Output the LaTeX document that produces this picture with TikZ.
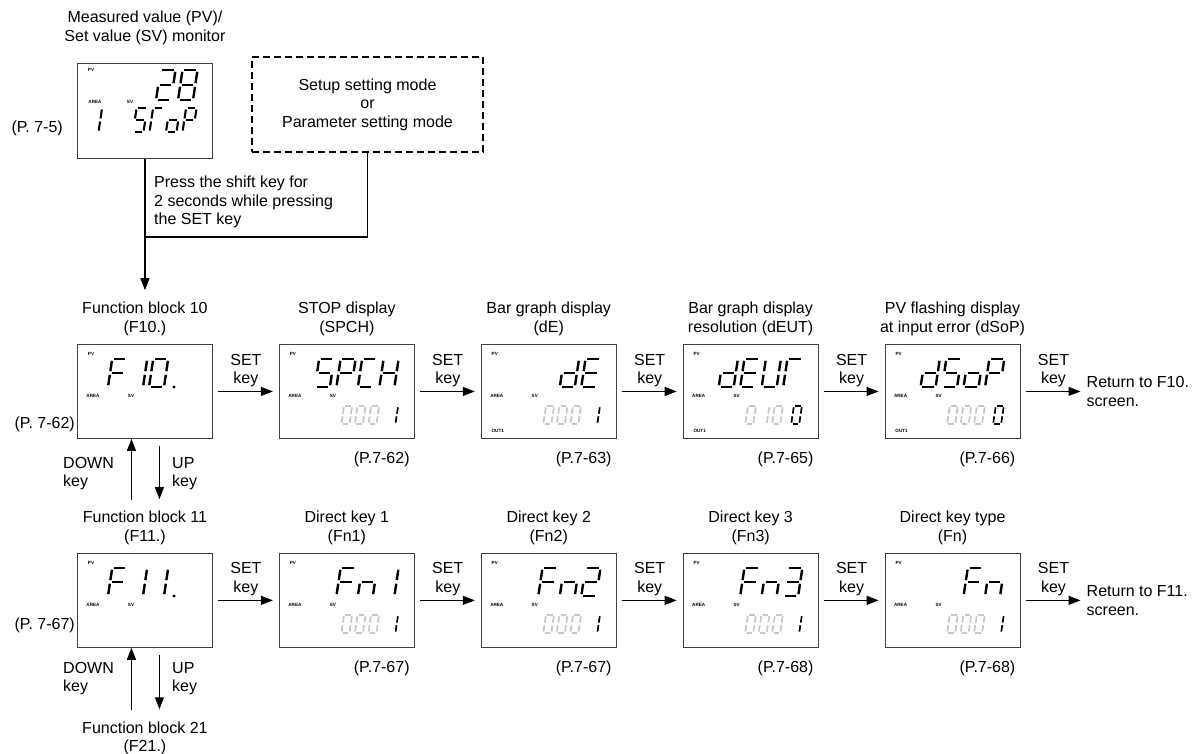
\documentclass[tikz,border=0pt]{standalone}
\usepackage{fontspec}
\setmainfont{Liberation Sans}
\usetikzlibrary{arrows.meta,positioning}

\colorlet{lcdoff}{black!22}
\colorlet{frame}{black!75}

% seven segment glyphs
\newcommand\segZero{a,b,c,d,e,f}
\newcommand\segOne{b,c}
\newcommand\segTwo{a,b,g,e,d}
\newcommand\segThree{a,b,g,c,d}
\newcommand\segEight{a,b,c,d,e,f,g}
\newcommand\segS{a,f,g,c,d}
\newcommand\segP{a,b,e,f,g}
\newcommand\segC{a,d,e,f}
\newcommand\segH{b,c,e,f,g}
\newcommand\segD{b,c,d,e,g}
\newcommand\segE{a,d,e,f,g}
\newcommand\segU{b,c,d,e,f}
\newcommand\segT{a,e,f}
\newcommand\segO{c,d,e,g}
\newcommand\segN{c,e,g}
\newcommand\segF{a,e,f,g}

\tikzset{
  seg/a/.style={insert path={(\segg,\segh) -- (\segw-\segg,\segh)}},
  seg/b/.style={insert path={(\segw,\segh-\segg) -- (\segw,\segh/2+\segg)}},
  seg/c/.style={insert path={(\segw,\segh/2-\segg) -- (\segw,\segg)}},
  seg/d/.style={insert path={(\segg,0) -- (\segw-\segg,0)}},
  seg/e/.style={insert path={(0,\segg) -- (0,\segh/2-\segg)}},
  seg/f/.style={insert path={(0,\segh/2+\segg) -- (0,\segh-\segg)}},
  seg/g/.style={insert path={(\segg,\segh/2) -- (\segw-\segg,\segh/2)}},
  big/.style={line width=2.4pt, /utils/exec={\def\segw{15}\def\segh{28}\def\segg{1.8}}},
  bigm/.style={line width=2.4pt, /utils/exec={\def\segw{15}\def\segh{30}\def\segg{1.8}}},
  mid/.style={line width=2.1pt, /utils/exec={\def\segw{10.5}\def\segh{24}\def\segg{1.5}}},
  small/.style={line width=1.7pt, /utils/exec={\def\segw{8}\def\segh{18}\def\segg{1.3}}},
}

\newcommand\lcdchar[4]{%
  \begin{scope}[shift={#1}, xslant=.15, #2]
    \foreach \s in #3 {\draw[#4, seg/\s];}
  \end{scope}}

\newcommand\bigrow[5]{%
  \begin{scope}[shift={(#1.north west)}]
    \ifx\relax#2\relax\else\lcdchar{(36,-43)}{big}{#2}{black}\fi
    \ifx\relax#3\relax\else\lcdchar{(57.5,-43)}{big}{#3}{black}\fi
    \ifx\relax#4\relax\else\lcdchar{(79,-43)}{big}{#4}{black}\fi
    \ifx\relax#5\relax\else\lcdchar{(100.5,-43)}{big}{#5}{black}\fi
  \end{scope}}

\newcommand\smallrow[5]{%
  \begin{scope}[shift={(#1.north west)}]
    \lcdchar{(62.5,-80)}{small}{#2}{lcdoff}
    \lcdchar{(76,-80)}{small}{#3}{lcdoff}
    \lcdchar{(89.5,-80)}{small}{#4}{lcdoff}
    \lcdchar{(108.5,-80)}{small}{#5}{black}
  \end{scope}}

\newcommand\lcdtags[1]{%
  \node[tag] (#1-pv) at ([shift={(14,-10)}]#1.north west) {PV};
  \node[tag] (#1-area) at ([shift={(16,-52)}]#1.north west) {AREA};
  \node[tag] (#1-sv) at ([shift={(54,-52)}]#1.north west) {SV};}

\begin{document}
\begin{tikzpicture}[x=1pt, y=1pt, >={Triangle[length=12pt,width=9pt]},
    every node/.style={font=\fontsize{16}{18.5}\selectfont, inner sep=0pt},
    lcd/.style={draw=frame, line width=0.9pt, minimum width=135pt, minimum height=94pt},
    ttl/.style={align=center},
    pref/.style={anchor=east},
    keylbl/.style={align=center, above=4pt},
    conn/.style={line width=1.1pt},
    arr/.style={->, line width=1.1pt, shorten <=5pt, shorten >=6pt},
    tag/.style={font=\fontsize{4.6}{4.6}\selectfont\bfseries}]
  \useasboundingbox (0,0) rectangle (1197,-754);

  % monitor and mode box
  \node[lcd, minimum height=95pt, anchor=north west] (mon) at (77,-63) {};
  \node[ttl, above=18pt of mon] (tmon) {Measured value (PV)/\\Set value (SV) monitor};
  \node[pref] (pmon) at (63,-128.5) {(P. 7-5)};
  \node[tag] (mon-pv) at ([shift={(14,-7)}]mon.north west) {PV};
  \node[tag] (mon-area) at ([shift={(18,-39)}]mon.north west) {AREA};
  \node[tag] (mon-sv) at ([shift={(53,-39)}]mon.north west) {SV};
  \begin{scope}[shift={(mon.north west)}]
    \lcdchar{(79,-37)}{bigm}{\segTwo}{black}
    \lcdchar{(101,-37)}{bigm}{\segEight}{black}
    \lcdchar{(11,-69)}{mid}{\segOne}{black}
    \lcdchar{(56,-69)}{mid}{\segS}{black}
    \lcdchar{(72.5,-69)}{mid}{\segT}{black}
    \lcdchar{(89,-69)}{mid}{\segO}{black}
    \lcdchar{(105.5,-69)}{mid}{\segP}{black}
  \end{scope}
  \node[draw, dash pattern=on 7pt off 4pt, line width=1.4pt, minimum width=231pt,
        minimum height=95pt, align=center] (mode) at (367.5,-104.5)
        {Setup setting mode\\or\\Parameter setting mode};
  \node[anchor=west, align=left] (press) at (154,-202)
        {Press the shift key for\\2 seconds while pressing\\the SET key};
  \coordinate (jn) at (144.5,-237);

  % row F10
  \node[lcd, anchor=north west] (f10) at (77,-344) {};
  \node[lcd, right=66pt of f10] (spch) {};
  \node[lcd, right=66pt of spch] (de) {};
  \node[lcd, right=66pt of de] (deut) {};
  \node[lcd, right=66pt of deut] (dsop) {};
  \node[anchor=west, align=left, right=66pt of dsop] (ret10) {Return to F10.\\screen.};
  \node[ttl, above=8pt of f10] (t10) {Function block 10\\(F10.)};
  \node[ttl, above=8pt of spch] (tsp) {STOP display\\(SPCH)};
  \node[ttl, above=8pt of de] (tde) {Bar graph display\\(dE)};
  \node[ttl, above=8pt of deut] (tdu) {Bar graph display\\resolution (dEUT)};
  \node[ttl, above=8pt of dsop] (tds) {PV flashing display\\at input error (dSoP)};
  \node[pref] (l62) at ([shift={(-2,-32.5)}]f10.west) {(P. 7-62)};
  \node[pref] (p62) at ([shift={(-5,-20.5)}]spch.south east) {(P.7-62)};
  \node[pref] (p63) at ([shift={(-5,-20.5)}]de.south east) {(P.7-63)};
  \node[pref] (p65) at ([shift={(-5,-20.5)}]deut.south east) {(P.7-65)};
  \node[pref] (p66) at ([shift={(-5,-20.5)}]dsop.south east) {(P.7-66)};

  % row F11
  \node[lcd, below=114pt of f10] (f11) {};
  \node[lcd, right=66pt of f11] (fn1) {};
  \node[lcd, right=66pt of fn1] (fn2) {};
  \node[lcd, right=66pt of fn2] (fn3) {};
  \node[lcd, right=66pt of fn3] (fn) {};
  \node[anchor=west, align=left, right=66pt of fn] (ret11) {Return to F11.\\screen.};
  \node[ttl, above=8pt of f11] (t11) {Function block 11\\(F11.)};
  \node[ttl, above=8pt of fn1] (tf1) {Direct key 1\\(Fn1)};
  \node[ttl, above=8pt of fn2] (tf2) {Direct key 2\\(Fn2)};
  \node[ttl, above=8pt of fn3] (tf3) {Direct key 3\\(Fn3)};
  \node[ttl, above=8pt of fn] (tfn) {Direct key type\\(Fn)};
  \node[ttl, below=73.5pt of f11] (t21) {Function block 21\\(F21.)};
  \node[pref] (l67) at ([shift={(-2,-25)}]f11.west) {(P. 7-67)};
  \node[pref] (p67a) at ([shift={(-5,-20.5)}]fn1.south east) {(P.7-67)};
  \node[pref] (p67b) at ([shift={(-5,-20.5)}]fn2.south east) {(P.7-67)};
  \node[pref] (p68a) at ([shift={(-5,-20.5)}]fn3.south east) {(P.7-68)};
  \node[pref] (p68b) at ([shift={(-5,-20.5)}]fn.south east) {(P.7-68)};

  \node[anchor=west, align=left] (dn1) at (63,-473.8) {DOWN\\key};
  \node[anchor=west, align=left] (up1) at (172,-473.8) {UP\\key};
  \node[anchor=west, align=left] (dn2) at (63,-678.8) {DOWN\\key};
  \node[anchor=west, align=left] (up2) at (172,-678.8) {UP\\key};

  % display contents
  \foreach \b in {f10,spch,de,deut,dsop,f11,fn1,fn2,fn3,fn} {\lcdtags{\b}}
  \node[tag] (de-out) at ([shift={(17,-87)}]de.north west) {OUT1};
  \node[tag] (deut-out) at ([shift={(17,-87)}]deut.north west) {OUT1};
  \node[tag] (dsop-out) at ([shift={(17,-87)}]dsop.north west) {OUT1};
  \begin{scope}[shift={(f10.north west)}]
    \lcdchar{(31,-43)}{big}{\segF}{black}
    \lcdchar{(51,-43)}{big}{\segOne}{black}
    \lcdchar{(72,-43)}{big}{\segZero}{black}
    \fill (97,-43) circle (1.6);
  \end{scope}
  \begin{scope}[shift={(f11.north west)}]
    \lcdchar{(31,-43)}{big}{\segF}{black}
    \lcdchar{(51,-43)}{big}{\segOne}{black}
    \lcdchar{(72,-43)}{big}{\segOne}{black}
    \fill (97,-43) circle (1.6);
  \end{scope}
  \bigrow{spch}{\segS}{\segP}{\segC}{\segH}
  \bigrow{de}{}{}{\segD}{\segE}
  \bigrow{deut}{\segD}{\segE}{\segU}{\segT}
  \bigrow{dsop}{\segD}{\segS}{\segO}{\segP}
  \bigrow{fn1}{}{\segF}{\segN}{\segOne}
  \bigrow{fn2}{}{\segF}{\segN}{\segTwo}
  \bigrow{fn3}{}{\segF}{\segN}{\segThree}
  \bigrow{fn}{}{}{\segF}{\segN}
  \smallrow{spch}{\segZero}{\segZero}{\segZero}{\segOne}
  \smallrow{de}{\segZero}{\segZero}{\segZero}{\segOne}
  \smallrow{deut}{\segZero}{\segOne}{\segZero}{\segZero}
  \smallrow{dsop}{\segZero}{\segZero}{\segZero}{\segZero}
  \smallrow{fn1}{\segZero}{\segZero}{\segZero}{\segOne}
  \smallrow{fn2}{\segZero}{\segZero}{\segZero}{\segOne}
  \smallrow{fn3}{\segZero}{\segZero}{\segZero}{\segOne}
  \smallrow{fn}{\segZero}{\segZero}{\segZero}{\segOne}

  % connectors
  \draw[conn] (mode.south) |- (jn);
  \draw[conn, ->, shorten >=12pt] (mon.south) -- (t10.north);
  \draw[arr] (f10) -- node[keylbl] (k1) {SET\\key} (spch);
  \draw[arr] (spch) -- node[keylbl] (k2) {SET\\key} (de);
  \draw[arr] (de) -- node[keylbl] (k3) {SET\\key} (deut);
  \draw[arr] (deut) -- node[keylbl] (k4) {SET\\key} (dsop);
  \draw[arr] (dsop) -- node[keylbl] (k5) {SET\\key} (ret10);
  \draw[arr] (f11) -- node[keylbl] (k6) {SET\\key} (fn1);
  \draw[arr] (fn1) -- node[keylbl] (k7) {SET\\key} (fn2);
  \draw[arr] (fn2) -- node[keylbl] (k8) {SET\\key} (fn3);
  \draw[arr] (fn3) -- node[keylbl] (k9) {SET\\key} (fn);
  \draw[arr] (fn) -- node[keylbl] (k10) {SET\\key} (ret11);
  \draw[conn, ->, shorten <=11pt] ([xshift=-13.5pt]t11.north) -- ([xshift=-13.5pt]f10.south);
  \draw[conn, ->, shorten <=7pt, shorten >=12pt] ([xshift=14.5pt]f10.south) -- ([xshift=14.5pt]t11.north);
  \draw[conn, ->, shorten <=11pt] ([xshift=-13.5pt]t21.north) -- ([xshift=-13.5pt]f11.south);
  \draw[conn, ->, shorten <=7pt, shorten >=12pt] ([xshift=14.5pt]f11.south) -- ([xshift=14.5pt]t21.north);
\end{tikzpicture}
\end{document}
